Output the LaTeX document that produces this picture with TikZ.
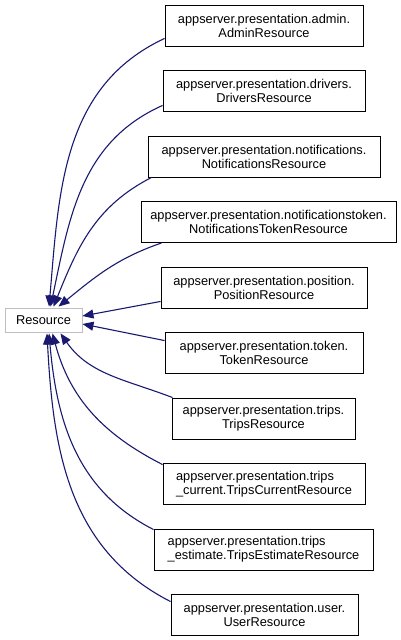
\documentclass[tikz,border=0pt]{standalone}
\usepackage{fontspec}
\setmainfont{Liberation Sans}
\usetikzlibrary{arrows.meta}
\definecolor{edgeblue}{HTML}{191970}
\definecolor{resgray}{HTML}{BFBFBF}
\tikzset{
  cls/.style={draw=black, line width=0.9pt, minimum height=41pt, inner sep=0pt,
    font=\fontsize{12.8}{14}\selectfont, align=center},
  clsl/.style={cls, align=left},
  resbox/.style={draw=resgray, line width=0.9pt, minimum height=24pt, minimum width=77pt,
    inner sep=0pt, font=\fontsize{12.8}{14}\selectfont},
  edge/.style={draw=edgeblue, line width=1.1pt, -{Triangle[length=11pt,width=9pt]}},
}
\begin{document}
\begin{tikzpicture}[x=1pt,y=1pt]
\useasboundingbox (0,0) rectangle (401,-640);
\node[resbox] (res) at (43.5,-320) {Resource};
\node[cls, minimum width=198pt] (admin) at (264,-25.5) {appserver.presentation.admin.\\AdminResource};
\node[cls, minimum width=202pt] (drivers) at (264,-91) {appserver.presentation.drivers.\\DriversResource};
\node[cls, minimum width=232pt] (notif) at (264,-156.5) {appserver.presentation.notifications.\\NotificationsResource};
\node[cls, minimum width=255pt] (ntoken) at (268.5,-222) {appserver.presentation.notificationstoken.\\NotificationsTokenResource};
\node[cls, minimum width=206pt] (position) at (264,-287.5) {appserver.presentation.position.\\PositionResource};
\node[cls, minimum width=198pt] (token) at (264,-353) {appserver.presentation.token.\\TokenResource};
\node[cls, minimum width=183pt] (trips) at (263.5,-418.5) {appserver.presentation.trips.\\TripsResource};
\node[clsl, minimum width=202pt] (current) at (264,-484) {appserver.presentation.trips\\\_current.TripsCurrentResource};
\node[clsl, minimum width=219pt] (estimate) at (263.5,-549.5) {appserver.presentation.trips\\\_estimate.TripsEstimateResource};
\node[cls, minimum width=187pt] (user) at (264.5,-615) {appserver.presentation.user.\\UserResource};

\draw[edge] ([yshift=8pt]admin.south west) to[out=205,in=85] ([xshift=5.5pt,yshift=1pt]res.north);
\draw[edge] ([yshift=6.5pt]drivers.south west) to[out=204,in=78] ([xshift=7pt,yshift=1pt]res.north);
\draw[edge] ([xshift=4pt]notif.south west) to[out=207,in=68] ([xshift=10pt,yshift=1pt]res.north);
\draw[edge] ([xshift=21pt]ntoken.south west) to[out=199,in=39] ([xshift=15pt,yshift=1pt]res.north);
\draw[edge] ([yshift=7pt]position.south west) -- ([yshift=4pt]res.east);
\draw[edge] ([yshift=-8.5pt]token.north west) -- ([yshift=-4pt]res.east);
\draw[edge] ([xshift=1pt]trips.north west) to[out=159,in=-55] ([xshift=17pt,yshift=-1pt]res.south);
\draw[edge] ([yshift=-1.5pt]current.north west) to[out=153,in=-75] ([xshift=9pt,yshift=-1pt]res.south);
\draw[edge] ([yshift=-1pt]estimate.north west) to[out=153,in=-85] ([xshift=5.5pt,yshift=-1pt]res.south);
\draw[edge] ([yshift=-7.5pt]user.north west) to[out=153,in=-87] ([xshift=3.5pt,yshift=-1pt]res.south);
\end{tikzpicture}
\end{document}
